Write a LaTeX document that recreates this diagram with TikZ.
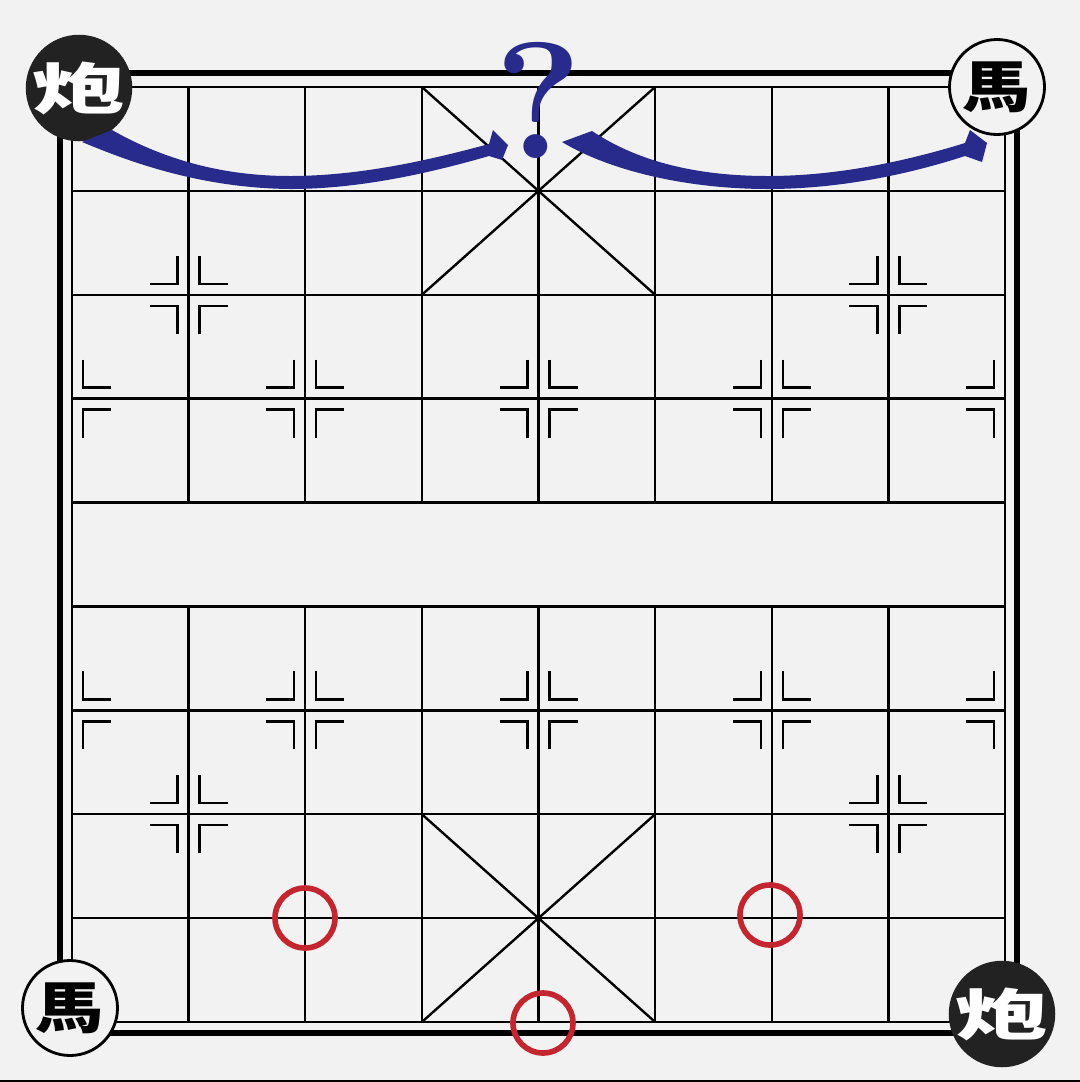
\documentclass[tikz,border=0pt]{standalone}
\usepackage{fontspec}
\newfontfamily\cjk{Noto Sans CJK TC}
\definecolor{boardbg}{RGB}{242,242,242}
\definecolor{piecedark}{RGB}{34,34,34}
\definecolor{arrowblue}{RGB}{40,42,140}
\definecolor{ringred}{RGB}{196,38,48}

\tikzset{
  gridline/.style={line width=1.7pt},
  markline/.style={line width=1.7pt, x=0.25mm, y=0.25mm},
  posmarkleft/.pic={
    \draw[markline] (-11,-39) -- (-11,-11) -- (-39,-11);
    \draw[markline] (-11,39) -- (-11,11) -- (-39,11);
  },
  posmarkright/.pic={
    \draw[markline] (11,-39) -- (11,-11) -- (39,-11);
    \draw[markline] (11,39) -- (11,11) -- (39,11);
  },
  posmark/.pic={
    \draw[markline] (-11,-39) -- (-11,-11) -- (-39,-11);
    \draw[markline] (-11,39) -- (-11,11) -- (-39,11);
    \draw[markline] (11,-39) -- (11,-11) -- (39,-11);
    \draw[markline] (11,39) -- (11,11) -- (39,11);
  },
  blackpiece/.style={circle, fill=piecedark, inner sep=0pt, minimum size=24.75mm,
    text=white, font=\cjk\bfseries\fontsize{44}{44}\selectfont},
  whitepiece/.style={circle, draw=black, line width=2pt, fill=boardbg, inner sep=0pt,
    minimum size=23.75mm, font=\cjk\bfseries\fontsize{44}{44}\selectfont},
  ring/.style={circle, draw=ringred, line width=4pt, inner sep=0pt, minimum size=15mm},
  asktext/.style={text=arrowblue, inner sep=0pt, font=\bfseries\fontsize{118}{118}\selectfont},
}

\begin{document}
\begin{tikzpicture}[x=0.25mm, y=-0.25mm]
    \useasboundingbox (0,0) rectangle (1080,1082);
    \fill[boardbg] (0,0) rectangle (1080,1082);

    % board, one unit = one square
    \begin{scope}[shift={(72,87)}, x=29.156mm, y=-25.972mm]
      \foreach \r in {0,...,9} \draw[gridline] (0,\r) -- (8,\r);
      \foreach \f in {1,...,7} \draw[gridline] (\f,0) -- (\f,4) (\f,5) -- (\f,9);
      \draw[gridline] (0,0) -- (0,9) (8,0) -- (8,9);

      \draw[gridline] (3,0) -- (5,2) (5,0) -- (3,2);
      \draw[gridline] (3,7) -- (5,9) (5,7) -- (3,9);

      \pic at (1,2) {posmark};
      \pic at (7,2) {posmark};
      \pic at (1,7) {posmark};
      \pic at (7,7) {posmark};
      \foreach \r in {3,6} {
        \pic at (0,\r) {posmarkright};
        \pic at (2,\r) {posmark};
        \pic at (4,\r) {posmark};
        \pic at (6,\r) {posmark};
        \pic at (8,\r) {posmarkleft};
      }
    \end{scope}
    \draw[line width=3.6pt] (60,73) rectangle (1017,1033);
    \draw[line width=0.9pt] (0,1081) -- (1080,1081);

    \node (ringL) [ring] at (305,918) {};
    \node (ringR) [ring] at (770,915) {};
    \node (ringB) [ring] at (543,1023) {};

    \node (paoTL) [blackpiece] at (79,88) {\scalebox{1.5}[0.9]{炮}};
    \node (maTR) [whitepiece] at (997,87) {\scalebox{1.1}[0.9]{馬}};
    \node (maBL) [whitepiece] at (70,1008) {\scalebox{1.1}[0.9]{馬}};
    \node (paoBR) [blackpiece] at (1002,1014) {\scalebox{1.5}[0.9]{炮}};

    % the two moves
    \fill[arrowblue] (112,130) .. controls (170,163) and (230,176) .. (290,176)
      .. controls (360,176) and (430,160) .. (489,144)
      -- (493,130) -- (508,145) -- (502,160) -- (489,156)
      .. controls (430,173) and (360,189) .. (290,189)
      .. controls (200,188) and (130,162) .. (82,142) -- cycle;
    \fill[arrowblue] (592,131) .. controls (640,163) and (700,176) .. (768,176)
      .. controls (840,176) and (910,160) .. (965,143)
      -- (970,130) -- (987,143) -- (982,162) -- (965,156)
      .. controls (910,174) and (840,189) .. (768,189)
      .. controls (690,189) and (612,172) .. (562,142) -- cycle;

    \node (ask) [asktext] at (539,100) {?};
\end{tikzpicture}
\end{document}
